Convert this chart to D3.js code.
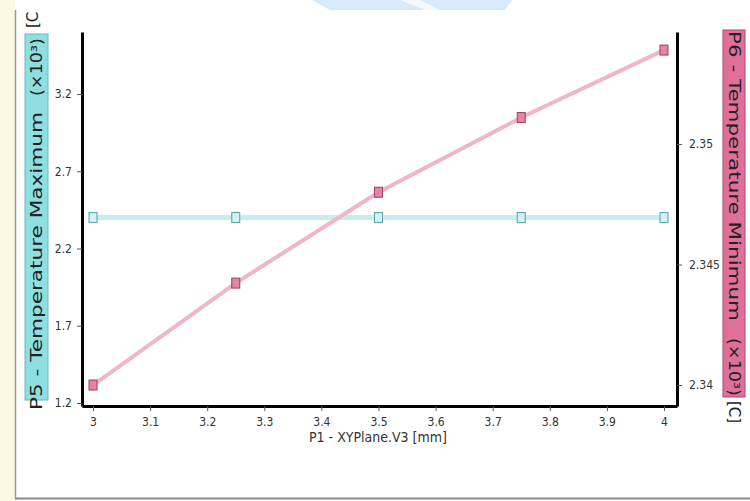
<!DOCTYPE html>
<html>
<head>
<meta charset="utf-8">
<script src="https://cdn.jsdelivr.net/npm/d3@7"></script>
<style>
  body { margin: 0; background: #fff; }
  svg { display: block; }
  .tick text { font-family: "DejaVu Sans Condensed", "DejaVu Sans", sans-serif; font-size: 12px; fill: #333; }
  .tick line { stroke: #555; }
</style>
</head>
<body>
<script>
// x values (P1 - XYPlane.V3 [mm])
var xVals = [3, 3.25, 3.5, 3.75, 4];
// P5 - Temperature Maximum (x10^3) on the left axis
var p5 = [2.4, 2.4, 2.4, 2.4, 2.4];
// P6 - Temperature Minimum (x10^3) on the right axis
var p6 = [2.34, 2.34423, 2.3480, 2.3511, 2.3539];
var xTicks = [3, 3.1, 3.2, 3.3, 3.4, 3.5, 3.6, 3.7, 3.8, 3.9, 4];
var leftTicks = [1.2, 1.7, 2.2, 2.7, 3.2];
var rightTicks = [2.34, 2.345, 2.35];

var W = 750, H = 501;
var svg = d3.select('body').append('svg')
    .attr('width', W)
    .attr('height', H);

// page background bits
svg.append('rect').attr('x', 0).attr('y', 0).attr('width', 15).attr('height', H).attr('fill', '#fdf8e3');
svg.append('path')
    .attr('d', 'M312,0 L512,0 L505,10 L330,10 Z')
    .attr('fill', '#d6eafa');
svg.append('path')
    .attr('d', 'M400,0 L420,0 L440,10 L425,10 Z')
    .attr('fill', '#f4f9fe');
svg.append('line').attr('x1', 15.5).attr('x2', 15.5).attr('y1', 10).attr('y2', 498)
    .attr('stroke', '#999').attr('stroke-width', 1.5);
svg.append('line').attr('x1', 15).attr('x2', W).attr('y1', 498.5).attr('y2', 498.5)
    .attr('stroke', '#888').attr('stroke-width', 2);

var mLeft = 82, mRight = 677, mTop = 32, mBottom = 406;

var x = d3.scaleLinear().domain([2.9807, 4.0228]).range([mLeft, mRight]);
var yL = d3.scaleLinear().domain([1.1806, 3.601]).range([mBottom, mTop]);
var yR = d3.scaleLinear().domain([2.33913, 2.35465]).range([mBottom, mTop]);

// axes
var gx = svg.append('g').attr('transform', 'translate(0,' + mBottom + ')')
    .call(d3.axisBottom(x).tickValues(xTicks).tickFormat(d3.format('')).tickSize(5).tickSizeOuter(0));
var gl = svg.append('g').attr('transform', 'translate(' + mLeft + ',0)')
    .call(d3.axisLeft(yL).tickValues(leftTicks).tickFormat(d3.format('.1f')).tickSize(5).tickSizeOuter(0));
var gr = svg.append('g').attr('transform', 'translate(' + mRight + ',0)')
    .call(d3.axisRight(yR).tickValues(rightTicks).tickFormat(d3.format('')).tickSize(5).tickSizeOuter(0));
[gx, gl, gr].forEach(function(g) {
  g.select('.domain').attr('stroke', '#000').attr('stroke-width', 3);
});
gx.selectAll('.tick text').attr('dy', '1.0em');
gl.selectAll('.tick text').attr('dx', '-2');
gr.selectAll('.tick text').attr('dx', '4');

// lines
var lineL = d3.line().x(function(d, i) { return x(xVals[i]); }).y(function(d) { return yL(d); });
var lineR = d3.line().x(function(d, i) { return x(xVals[i]); }).y(function(d) { return yR(d); });

svg.append('path').datum(p5).attr('d', lineL)
    .attr('fill', 'none').attr('stroke', '#c6eeee').attr('stroke-width', 5);
svg.append('path').datum(p6).attr('d', lineR)
    .attr('fill', 'none').attr('stroke', '#f0b6c8').attr('stroke-width', 4);

// markers
svg.append('g').selectAll('rect').data(p5).join('rect')
    .attr('x', function(d, i) { return x(xVals[i]) - 4; })
    .attr('y', function(d) { return yL(d) - 5; })
    .attr('width', 8).attr('height', 10)
    .attr('fill', '#cdf3f3').attr('stroke', '#5a9ea6').attr('stroke-width', 1);
svg.append('g').selectAll('rect').data(p6).join('rect')
    .attr('x', function(d, i) { return x(xVals[i]) - 4; })
    .attr('y', function(d) { return yR(d) - 5; })
    .attr('width', 8).attr('height', 10)
    .attr('fill', '#e684a4').attr('stroke', '#98405e').attr('stroke-width', 1);

// x title
svg.append('text')
    .attr('x', 378).attr('y', 442)
    .attr('text-anchor', 'middle')
    .style('font-family', '"DejaVu Sans Condensed", "DejaVu Sans", sans-serif')
    .style('font-size', '14px').style('fill', '#333')
    .text('P1 - XYPlane.V3  [mm]');

function rotText(tx, ty, ang, len, str) {
  var t = svg.append('text')
      .attr('transform', 'translate(' + tx + ',' + ty + ') rotate(' + ang + ')')
      .style('font-family', '"DejaVu Sans", sans-serif').style('font-size', '15px').style('fill', '#222')
      .text(str);
  if (len) t.attr('textLength', len).attr('lengthAdjust', 'spacingAndGlyphs');
  return t;
}

// left y title box
svg.append('rect').attr('x', 25).attr('y', 34).attr('width', 23).attr('height', 366)
    .attr('fill', '#8fdfe0').attr('stroke', '#6bb8bc');
rotText(42, 410, -90, 298, 'P5 - Temperature Maximum');
rotText(42, 96, -90, 58, '(×10³)');
rotText(38, 28, -90, 0, '[C');

// right y title box
svg.append('rect').attr('x', 723).attr('y', 30).attr('width', 22).attr('height', 367)
    .attr('fill', '#e0709a').attr('stroke', '#a84a6c');
rotText(729, 31, 90, 290, 'P6 - Temperature Minimum');
rotText(729, 338, 90, 58, '(×10³)');
rotText(729, 401, 90, 0, '[C]');
</script>
</body>
</html>
